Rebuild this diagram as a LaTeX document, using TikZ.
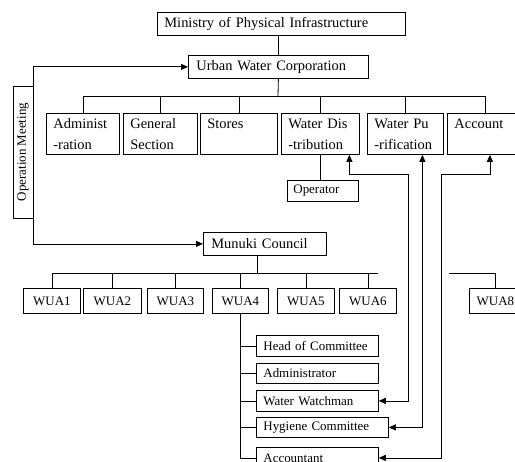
\documentclass[tikz,border=0pt]{standalone}
\usepackage{fontspec}
\setmainfont{Liberation Serif}
\usetikzlibrary{arrows.meta}
\newcommand\deptfont{\fontsize{14.5}{21}\selectfont}
\newcommand\stafffont{\fontsize{13}{16}\selectfont}

\begin{document}
\begin{tikzpicture}[x=1bp, y=-1bp, line width=0.8bp,
  box/.style={draw, anchor=north west, inner xsep=7bp, inner ysep=0pt, align=left, font=\deptfont},
  smallbox/.style={box, font=\stafffont},
  arr/.style={-{Triangle[length=7bp,width=6bp]}},
  link/.style={{Triangle[length=7bp,width=6bp]}-{Triangle[length=7bp,width=6bp]}}]

  \useasboundingbox (0,0) rectangle (515,462);

  % Ministry and corporation
  \node[box, text width=234bp, minimum height=23bp] (ministry) at (157,12) {Ministry of Physical Infrastructure};
  \node[box, inner xsep=8bp, text width=164bp, minimum height=23bp] (uwc) at (188,55) {Urban Water Corporation};

  % Departments
  \node[box, text width=59bp, minimum height=41bp] (admin) at (46,113) {Administ\\-ration};
  \node[box, text width=60bp, minimum height=41bp] (general) at (123,113) {General\\Section};
  \node[box, text width=63bp, minimum height=41bp] (stores) at (200,113) {Stores\\\mbox{}};
  \node[box, text width=64bp, minimum height=41bp] (waterdis) at (281,113) {Water Dis\\-tribution};
  \node[box, text width=62bp, minimum height=41bp] (waterpu) at (367,113) {Water Pu\\-rification};
  \node[box, text width=61bp, minimum height=41bp] (account) at (447,113) {Account\\\mbox{}};

  \node[smallbox, inner xsep=6bp, text width=59bp, minimum height=21bp] (operator) at (287,180) {Operator};

  % Meeting and council
  \node[draw, rotate=90, font=\stafffont, minimum width=132bp, minimum height=20bp, inner sep=0pt] (opmeet) at (23,152) {Operation Meeting};
  \node[box, inner xsep=8bp, text width=107bp, minimum height=23bp] (munuki) at (203,232) {Munuki Council};

  % Water user associations
  \foreach \n/\x/\w in {1/23/57, 2/83/58, 3/147/56, 4/212/56, 5/277/57, 6/339/57, 8/469/52}
    \node[smallbox, inner xsep=0pt, text width=\w bp, align=center, minimum height=25bp] (wua\n) at (\x,288) {WUA\n};

  % WUA4 staff
  \node[smallbox, text width=108bp, minimum height=21bp] (head) at (256,335) {Head of Committee};
  \node[smallbox, text width=108bp, minimum height=20bp] (admnr) at (256,363) {Administrator};
  \node[smallbox, text width=108bp, minimum height=21bp] (watchman) at (256,390) {Water Watchman};
  \node[smallbox, text width=118bp, minimum height=20bp] (hygiene) at (256,417) {Hygiene Committee};
  \node[smallbox, text width=108bp, minimum height=21bp] (accountant) at (256,447) {Accountant};

  % Tree lines
  \coordinate (deptbus) at (278,96);
  \draw (ministry.south -| uwc.north) -- (uwc.north);
  \draw (uwc.south) -- (deptbus);
  \draw (admin.north |- deptbus) -- (account.north |- deptbus);
  \foreach \n in {admin,general,stores,waterdis,waterpu,account}
    \draw (\n.north |- deptbus) -- (\n.north);
  \draw (waterdis.south) -- (waterdis.south |- operator.north);

  \draw[arr] (opmeet.south) |- (uwc.west);
  \draw[arr] (opmeet.south) |- (munuki.west);

  \coordinate (wuabus) at (257,273);
  \coordinate (busend) at (378,273);
  \coordinate (busrestart) at (449,273);
  \draw (munuki.south -| wuabus) -- (wuabus);
  \draw (wua1.north |- wuabus) -- (busend);
  \foreach \n in {1,...,6}
    \draw (wua\n.north |- wuabus) -- (wua\n.north);
  \draw (busrestart) -| (wua8.north);

  \draw (wua4.south) |- (accountant.west);
  \foreach \n in {head,admnr,watchman,hygiene}
    \draw (wua4.south |- \n.west) -- (\n.west);

  % Reporting lines
  \coordinate (wwturn) at (408,174);
  \coordinate (acturn) at (441,174);
  \draw[link] (watchman.east) -| (wwturn) -| ([xshift=29bp]waterdis.south);
  \draw[link] (hygiene.east) -| ([xshift=17bp]waterpu.south);
  \draw[link] (accountant.east) -| (acturn) -| ([xshift=5bp]account.south);
\end{tikzpicture}
\end{document}
